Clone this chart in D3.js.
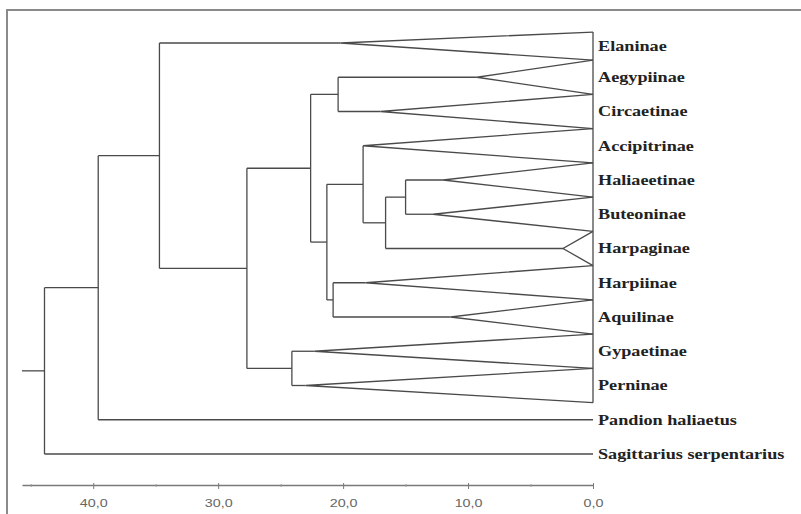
<!DOCTYPE html>
<html>
<head>
<meta charset="utf-8">
<script src="https://cdn.jsdelivr.net/npm/d3@7"></script>
<style>
  body { margin: 0; background: #fff; }
  svg { display: block; }
</style>
</head>
<body>
<div class="container"></div>
<script>
const WIDTH = 801;
const HEIGHT = 514;

// leaves, top to bottom
var leaves = ["Elaninae", "Aegypiinae", "Circaetinae", "Accipitrinae", "Haliaeetinae",
  "Buteoninae", "Harpaginae", "Harpiinae", "Aquilinae", "Gypaetinae", "Perninae",
  "Pandion haliaetus", "Sagittarius serpentarius"];
// depth of the apex of each collapsed (triangle) clade, null for single taxa
var cladeDepth = [20.2, 9.3, 17.0, 18.4, 12.0, 12.8, 2.4, 18.2, 11.4, 22.3, 23.0, null, null];
// triangle base edges, in row units
var triangleEdges = [-0.32, 0.5, 1.5, 2.5, 3.5, 4.5, 5.5, 6.5, 7.5, 8.5, 9.5, 10.5];

// internal nodes
var nodeNames = ["K", "J", "I", "H", "G", "F", "E", "D", "C", "B", "A", "root"];
var nodeHeights = [15.0, 16.6, 18.4, 20.8, 21.3, 20.4, 22.6, 24.1, 27.7, 34.7, 39.6, 43.9];
var nodeChildren = [
  ["Haliaeetinae", "Buteoninae"], ["K", "Harpaginae"], ["Accipitrinae", "J"],
  ["Harpiinae", "Aquilinae"], ["I", "H"], ["Aegypiinae", "Circaetinae"], ["F", "G"],
  ["Gypaetinae", "Perninae"], ["E", "D"], ["Elaninae", "C"], ["B", "Pandion haliaetus"],
  ["A", "Sagittarius serpentarius"]];
var rootStem = 45.7;

var majorTicks = [40, 30, 20, 10, 0];
var minorTicks = [45, 35, 25, 15, 5];

var svg = d3.select('.container').append('svg')
  .attr('width', WIDTH)
  .attr('height', HEIGHT);

var xScale = d3.scaleLinear().domain([rootStem, 0]).range([22, 593]);
var yScale = d3.scaleLinear().domain([0, 12]).range([43, 454]);

var LINE = '#4a4a4a';

// frame
svg.append('path')
  .attr('d', 'M7,' + HEIGHT + 'V10H' + WIDTH)
  .attr('fill', 'none')
  .attr('stroke', '#8a8a8a')
  .attr('stroke-width', 2);

// build the tree
var rows = [];
leaves.forEach(function (name, i) {
  rows.push({ id: name, parent: null, height: cladeDepth[i] == null ? 0 : cladeDepth[i], leaf: i });
});
nodeNames.forEach(function (name, i) {
  rows.push({ id: name, parent: null, height: nodeHeights[i] });
});
nodeChildren.forEach(function (kids, i) {
  kids.forEach(function (k) {
    rows.find(function (r) { return r.id === k; }).parent = nodeNames[i];
  });
});

var root = d3.stratify().id(function (d) { return d.id; }).parentId(function (d) { return d.parent; })(rows);
root.eachAfter(function (n) {
  if (n.children) {
    n.yPos = d3.mean(n.children, function (c) { return c.yPos; });
  } else {
    n.yPos = yScale(n.data.leaf);
  }
});

var g = svg.append('g')
  .attr('fill', 'none')
  .attr('stroke', LINE)
  .attr('stroke-width', 1.3);

root.each(function (n) {
  if (!n.children) return;
  var x0 = xScale(n.data.height);
  var ys = n.children.map(function (c) { return c.yPos; });
  g.append('line')
    .attr('x1', x0).attr('x2', x0)
    .attr('y1', d3.min(ys)).attr('y2', d3.max(ys));
  n.children.forEach(function (c) {
    g.append('line')
      .attr('x1', x0).attr('x2', xScale(c.data.height))
      .attr('y1', c.yPos).attr('y2', c.yPos);
  });
});

// root stem
g.append('line')
  .attr('x1', xScale(rootStem)).attr('x2', xScale(root.data.height))
  .attr('y1', root.yPos).attr('y2', root.yPos);

// collapsed clades
var labelY = [];
leaves.forEach(function (name, i) {
  if (cladeDepth[i] == null) { labelY.push(yScale(i)); return; }
  var top = yScale(triangleEdges[i]);
  var bottom = yScale(i + 0.5);
  var ax = xScale(cladeDepth[i]);
  g.append('path')
    .attr('d', 'M' + xScale(0) + ',' + top + 'L' + ax + ',' + yScale(i) + 'L' + xScale(0) + ',' + bottom);
  labelY.push((top + bottom) / 2);
});
g.append('line')
  .attr('x1', xScale(0)).attr('x2', xScale(0))
  .attr('y1', yScale(triangleEdges[0])).attr('y2', yScale(10.5));

// leaf labels
svg.append('g').selectAll('text')
  .data(leaves)
  .enter().append('text')
  .attr('transform', function (d, i) { return 'translate(598,' + labelY[i] + ') scale(1.3,1)'; })
  .attr('dy', '0.35em')
  .attr('font-family', '"Liberation Serif", "Times New Roman", serif')
  .attr('font-weight', 'bold')
  .attr('font-size', '14px')
  .attr('fill', '#222')
  .text(function (d) { return d; });

// axis
var AXIS_Y = 485;
var axis = svg.append('g')
  .attr('transform', 'translate(0,' + AXIS_Y + ')')
  .call(d3.axisBottom(xScale).tickValues(majorTicks).tickSize(4).tickSizeOuter(0)
    .tickFormat(function (d) { return d.toFixed(1).replace('.', ','); }));
axis.select('.domain').attr('stroke', '#7a7a7a').attr('stroke-width', 1.3);
axis.selectAll('.tick line').attr('stroke', '#7a7a7a').attr('y1', -2);
axis.selectAll('.tick text')
  .attr('y', 0).attr('dy', 0)
  .attr('transform', 'translate(0,22) scale(1.3,1)')
  .attr('font-family', 'Arial, "Liberation Sans", sans-serif')
  .attr('font-size', '11px')
  .attr('fill', '#666');

var minor = svg.append('g')
  .attr('transform', 'translate(0,' + AXIS_Y + ')')
  .call(d3.axisBottom(xScale).tickValues(minorTicks).tickSize(2).tickSizeOuter(0).tickFormat(''));
minor.select('.domain').remove();
minor.selectAll('.tick line').attr('stroke', '#9a9a9a').attr('y1', -1);
</script>
</body>
</html>
